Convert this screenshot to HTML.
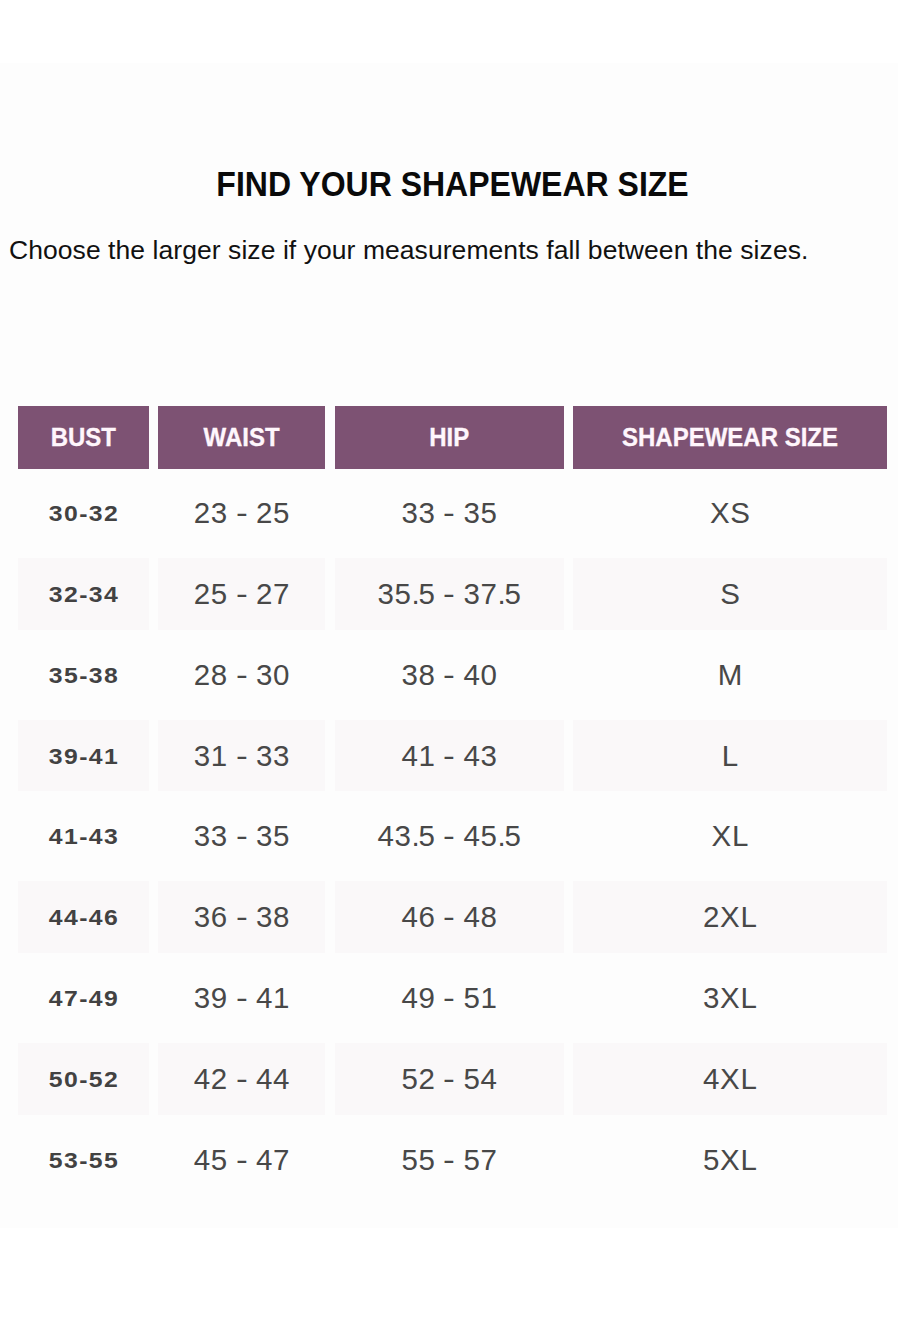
<!DOCTYPE html>
<html>
<head>
<meta charset="utf-8">
<style>
html,body{margin:0;padding:0;}
body{width:898px;height:1330px;background:#ffffff;position:relative;overflow:hidden;font-family:"Liberation Sans",sans-serif;}
.panel{position:absolute;left:0;top:63px;width:898px;height:1165px;background:#fdfdfd;}
.title{position:absolute;left:0;width:905px;top:165px;text-align:center;font-weight:bold;font-size:32px;line-height:40px;color:#0a0a0a;white-space:nowrap;transform:scaleY(1.07);transform-origin:50% 75%;}
.sub{position:absolute;left:9px;top:233px;font-size:26.5px;letter-spacing:0.06px;line-height:34px;color:#111;white-space:nowrap;}
.c{position:absolute;display:flex;align-items:center;justify-content:center;white-space:nowrap;}
.h{background:#7d5273;color:#fff6fc;font-weight:bold;font-size:24px;top:405.5px;height:63px;}
.h span{display:inline-block;transform:translateY(1.0px) scaleY(1.05);-webkit-text-stroke:0.3px #fff6fc;}
.k1{left:18px;width:130.7px;}
.k2{left:158.3px;width:166.6px;}
.k3{left:334.9px;width:228.7px;}
.k4{left:573.25px;width:313.45px;}
.r{height:71.5px;}
.g{background:#faf8f9;}
.b span{display:inline-block;font-weight:bold;font-size:22.5px;color:#424242;letter-spacing:1.3px;margin-right:-1.3px;transform:translateY(0.8px) scaleX(1.1);}
.n span{display:inline-block;font-size:29.5px;color:#484848;letter-spacing:0.6px;margin-right:-0.6px;transform:translateY(0px) scaleY(1.03);}
i{font-style:normal;}
.hy{display:inline-block;transform:scaleX(1.2);}
.pd{letter-spacing:-1.2px;}
</style>
</head>
<body>
<div class="panel"></div>
<div class="title">FIND YOUR SHAPEWEAR SIZE</div>
<div class="sub">Choose the larger size if your measurements fall between the sizes.</div>
<div class="c h k1"><span>BUST</span></div>
<div class="c h k2"><span>WAIST</span></div>
<div class="c h k3"><span>HIP</span></div>
<div class="c h k4"><span>SHAPEWEAR SIZE</span></div>
<div class="c r k1 b" style="top:477.30px"><span>30-32</span></div>
<div class="c r k2 n" style="top:477.30px"><span>23 <i class="hy">-</i> 25</span></div>
<div class="c r k3 n" style="top:477.30px"><span>33 <i class="hy">-</i> 35</span></div>
<div class="c r k4 n" style="top:477.30px"><span>XS</span></div>
<div class="c r g k1 b" style="top:558.13px"><span>32-34</span></div>
<div class="c r g k2 n" style="top:558.13px"><span>25 <i class="hy">-</i> 27</span></div>
<div class="c r g k3 n" style="top:558.13px"><span>35<i class="pd">.</i>5 <i class="hy">-</i> 37<i class="pd">.</i>5</span></div>
<div class="c r g k4 n" style="top:558.13px"><span>S</span></div>
<div class="c r k1 b" style="top:638.96px"><span>35-38</span></div>
<div class="c r k2 n" style="top:638.96px"><span>28 <i class="hy">-</i> 30</span></div>
<div class="c r k3 n" style="top:638.96px"><span>38 <i class="hy">-</i> 40</span></div>
<div class="c r k4 n" style="top:638.96px"><span>M</span></div>
<div class="c r g k1 b" style="top:719.79px"><span>39-41</span></div>
<div class="c r g k2 n" style="top:719.79px"><span>31 <i class="hy">-</i> 33</span></div>
<div class="c r g k3 n" style="top:719.79px"><span>41 <i class="hy">-</i> 43</span></div>
<div class="c r g k4 n" style="top:719.79px"><span>L</span></div>
<div class="c r k1 b" style="top:800.62px"><span>41-43</span></div>
<div class="c r k2 n" style="top:800.62px"><span>33 <i class="hy">-</i> 35</span></div>
<div class="c r k3 n" style="top:800.62px"><span>43<i class="pd">.</i>5 <i class="hy">-</i> 45<i class="pd">.</i>5</span></div>
<div class="c r k4 n" style="top:800.62px"><span>XL</span></div>
<div class="c r g k1 b" style="top:881.45px"><span>44-46</span></div>
<div class="c r g k2 n" style="top:881.45px"><span>36 <i class="hy">-</i> 38</span></div>
<div class="c r g k3 n" style="top:881.45px"><span>46 <i class="hy">-</i> 48</span></div>
<div class="c r g k4 n" style="top:881.45px"><span>2XL</span></div>
<div class="c r k1 b" style="top:962.28px"><span>47-49</span></div>
<div class="c r k2 n" style="top:962.28px"><span>39 <i class="hy">-</i> 41</span></div>
<div class="c r k3 n" style="top:962.28px"><span>49 <i class="hy">-</i> 51</span></div>
<div class="c r k4 n" style="top:962.28px"><span>3XL</span></div>
<div class="c r g k1 b" style="top:1043.11px"><span>50-52</span></div>
<div class="c r g k2 n" style="top:1043.11px"><span>42 <i class="hy">-</i> 44</span></div>
<div class="c r g k3 n" style="top:1043.11px"><span>52 <i class="hy">-</i> 54</span></div>
<div class="c r g k4 n" style="top:1043.11px"><span>4XL</span></div>
<div class="c r k1 b" style="top:1123.94px"><span>53-55</span></div>
<div class="c r k2 n" style="top:1123.94px"><span>45 <i class="hy">-</i> 47</span></div>
<div class="c r k3 n" style="top:1123.94px"><span>55 <i class="hy">-</i> 57</span></div>
<div class="c r k4 n" style="top:1123.94px"><span>5XL</span></div>
</body>
</html>
